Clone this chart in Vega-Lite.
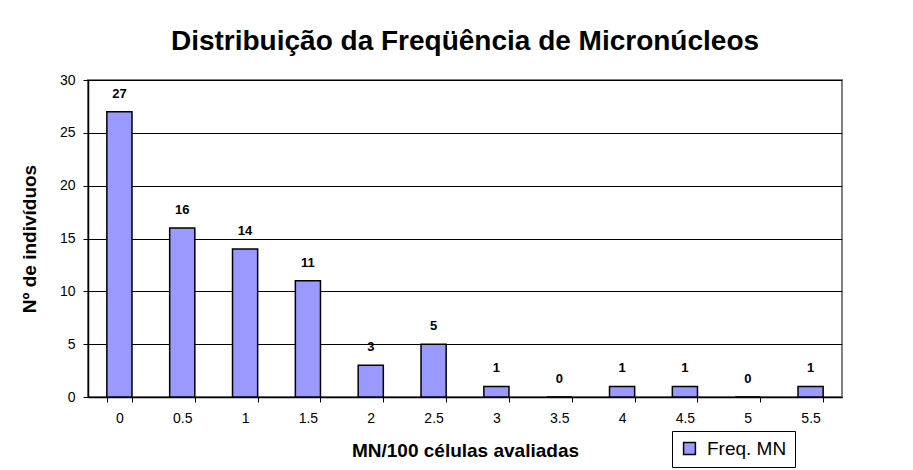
{
  "$schema": "https://vega.github.io/schema/vega-lite/v6.json",
  "width": 754,
  "height": 317,
  "autosize": {"type": "none"},
  "padding": {"left": 88, "top": 80, "right": 71, "bottom": 73},
  "background": "white",
  "title": {
    "text": "Distribuição da Freqüência de Micronúcleos",
    "font": "Liberation Sans",
    "fontSize": 28,
    "fontWeight": "bold",
    "color": "black",
    "anchor": "middle",
    "offset": 17
  },
  "data": {
    "values": [
      {"mn": "0", "freq": 27},
      {"mn": "0.5", "freq": 16},
      {"mn": "1", "freq": 14},
      {"mn": "1.5", "freq": 11},
      {"mn": "2", "freq": 3},
      {"mn": "2.5", "freq": 5},
      {"mn": "3", "freq": 1},
      {"mn": "3.5", "freq": 0},
      {"mn": "4", "freq": 1},
      {"mn": "4.5", "freq": 1},
      {"mn": "5", "freq": 0},
      {"mn": "5.5", "freq": 1}
    ]
  },
  "config": {
    "font": "Liberation Sans",
    "view": {"stroke": "#808080", "strokeWidth": 2},
    "axis": {
      "labelFont": "Liberation Sans",
      "titleFont": "Liberation Sans",
      "labelColor": "black",
      "titleColor": "black",
      "domainColor": "black",
      "tickColor": "black",
      "labelFontSize": 14,
      "titleFontSize": 19,
      "titleFontWeight": "bold"
    }
  },
  "layer": [
    {
      "mark": {"type": "bar", "fill": "#9999FF", "stroke": "black", "strokeWidth": 1.5},
      "encoding": {
        "x": {
          "field": "mn", "type": "nominal", "sort": null,
          "scale": {"paddingInner": 0.6, "paddingOuter": 0.3},
          "axis": {
            "title": "MN/100 células avaliadas",
            "labelAngle": 0,
            "tickBand": "extent",
            "tickSize": 5,
            "labelPadding": 9,
            "titlePadding": 16,
            "domainWidth": 1.5,
            "grid": false
          }
        },
        "y": {
          "field": "freq", "type": "quantitative",
          "scale": {"domain": [0, 30]},
          "axis": {
            "title": "Nº de indivíduos",
            "values": [0, 5, 10, 15, 20, 25, 30],
            "grid": true,
            "gridColor": "black",
            "gridWidth": 1,
            "tickSize": 5,
            "labelPadding": 8,
            "titlePadding": 20,
            "domainWidth": 1.5
          }
        },
        "color": {
          "datum": "Freq. MN",
          "scale": {"range": ["#9999FF"]},
          "legend": {
            "title": null,
            "orient": "none",
            "legendX": 584,
            "legendY": 351,
            "symbolType": "square",
            "symbolSize": 140,
            "symbolStrokeColor": "black",
            "symbolStrokeWidth": 1.5,
            "symbolFillColor": "#9999FF",
            "labelFontSize": 19,
            "labelOffset": 8,
            "labelFont": "Liberation Sans",
            "labelColor": "black",
            "strokeColor": "black",
            "padding": 8,
            "fillColor": "white"
          }
        }
      }
    },
    {
      "mark": {"type": "text", "fontWeight": "bold", "fontSize": 13, "color": "black", "baseline": "middle", "dy": -18},
      "encoding": {
        "x": {"field": "mn", "type": "nominal", "sort": null},
        "y": {"field": "freq", "type": "quantitative"},
        "text": {"field": "freq", "type": "quantitative"}
      }
    }
  ]
}
